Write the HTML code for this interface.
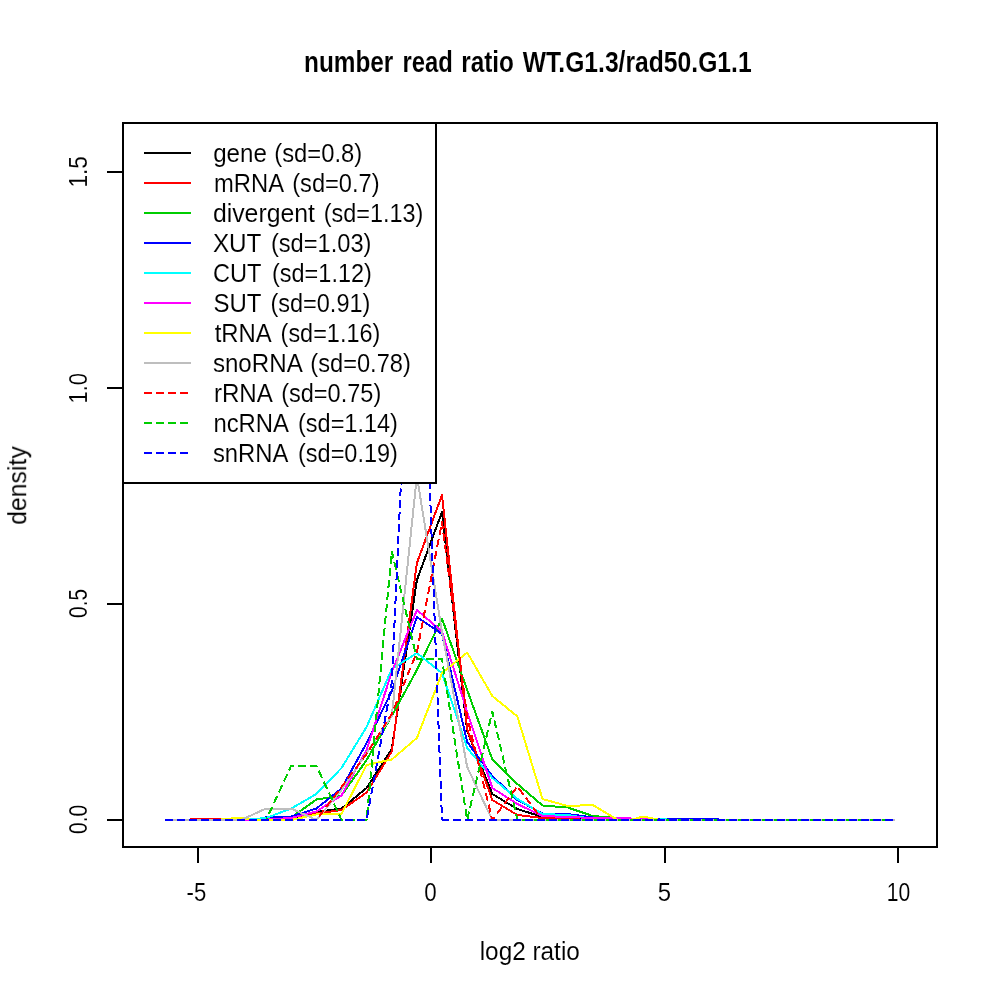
<!DOCTYPE html>
<html>
<head>
<meta charset="utf-8">
<title>number read ratio WT.G1.3/rad50.G1.1</title>
<style>
html,body{margin:0;padding:0;background:#fff;}
body{width:1000px;height:1000px;overflow:hidden;}
svg{display:block;font-family:"Liberation Sans",sans-serif;}
text{fill:#000;stroke:#fff;stroke-width:0.08px;paint-order:fill stroke;}
#txt{filter:grayscale(1);}
</style>
</head>
<body>
<svg width="1000" height="1000" viewBox="0 0 1000 1000">
<rect x="0" y="0" width="1000" height="1000" fill="#ffffff"/>
<defs><clipPath id="pc"><rect x="123" y="123" width="814" height="724"/></clipPath></defs>
<g clip-path="url(#pc)" fill="none" stroke-width="2" shape-rendering="crispEdges" stroke-linejoin="round">
<polyline stroke="#000000" stroke-linecap="square" points="165.6,820.0 190.7,820.0 215.9,820.0 241.0,820.0 266.1,820.0 291.2,819.0 316.4,812.0 341.5,808.5 366.6,788.0 391.8,749.0 416.9,580.0 442.0,512.0 467.2,731.0 492.3,794.0 517.4,809.0 542.5,817.0 567.7,817.5 592.8,819.0 617.9,820.0 643.1,820.0 668.2,820.0 693.3,820.0 718.5,820.0 743.6,820.0 768.7,820.0 793.9,820.0 819.0,820.0 844.1,820.0 869.2,820.0 894.4,820.0"/>
<polyline stroke="#FF0000" stroke-linecap="square" points="165.6,820.0 189.7,820.0 190.7,819.0 215.9,819.0 241.0,819.0 266.1,819.0 291.2,817.0 316.4,813.5 341.5,810.0 366.6,792.5 391.8,751.5 416.9,563.0 442.0,495.0 467.2,729.0 492.3,800.0 517.4,815.0 542.5,818.0 567.7,819.0 592.8,820.0 617.9,820.0 643.1,820.0 668.2,820.0 693.3,820.0 718.5,820.0 743.6,820.0 768.7,820.0 793.9,820.0 819.0,820.0 844.1,820.0 869.2,820.0 894.4,820.0"/>
<polyline stroke="#00CD00" stroke-linecap="square" points="165.6,820.0 190.7,820.0 215.9,820.0 241.0,820.0 266.1,818.5 291.2,817.5 316.4,799.5 341.5,795.5 366.6,760.0 391.8,716.0 416.9,670.0 442.0,618.5 467.2,690.0 492.3,759.5 517.4,784.0 542.5,805.5 567.7,807.5 592.8,816.0 617.9,818.0 643.1,819.0 668.2,820.0 693.3,820.0 718.5,820.0 743.6,820.0 768.7,820.0 793.9,820.0 819.0,820.0 844.1,820.0 869.2,820.0 894.4,820.0"/>
<polyline stroke="#0000FF" stroke-linecap="square" points="165.6,820.0 190.7,820.0 215.9,820.0 241.0,820.0 263.6,820.0 266.1,816.5 291.2,816.5 316.4,808.5 341.5,788.5 366.6,743.0 391.8,691.0 416.9,617.0 442.0,634.0 467.2,742.0 492.3,776.0 517.4,800.0 542.5,813.5 567.7,814.0 592.8,817.5 617.9,818.5 643.1,819.0 668.2,819.0 693.3,819.0 718.5,819.0 719.2,820.0 743.6,820.0 768.7,820.0 793.9,820.0 819.0,820.0 844.1,820.0 869.2,820.0 894.4,820.0"/>
<polyline stroke="#00FFFF" stroke-linecap="square" points="165.6,820.0 190.7,820.0 215.9,820.0 241.0,820.0 266.1,818.0 291.2,808.5 316.4,794.0 341.5,768.0 366.6,727.0 391.8,669.0 416.9,653.0 442.0,673.0 467.2,748.0 492.3,778.0 517.4,799.0 542.5,814.0 567.7,815.0 592.8,819.0 617.9,820.0 643.1,820.0 659.4,820.0 660.7,819.0 665.7,819.0 666.9,820.0 668.2,820.0 693.3,820.0 718.5,820.0 743.6,820.0 768.7,820.0 793.9,820.0 819.0,820.0 844.1,820.0 869.2,820.0 894.4,820.0"/>
<polyline stroke="#FF00FF" stroke-linecap="square" points="165.6,820.0 190.7,820.0 215.9,820.0 241.0,820.0 266.1,819.5 291.2,818.0 316.4,811.4 341.5,795.5 366.6,750.0 391.8,672.0 416.9,610.0 442.0,631.5 467.2,712.0 492.3,788.0 517.4,804.0 542.5,816.0 567.7,817.0 592.8,818.0 617.9,818.0 643.1,819.0 668.2,820.0 693.3,820.0 718.5,820.0 743.6,820.0 768.7,820.0 793.9,820.0 819.0,820.0 844.1,820.0 869.2,820.0 894.4,820.0"/>
<polyline stroke="#FFFF00" stroke-linecap="square" points="165.6,820.0 190.7,820.0 215.9,820.0 241.0,817.5 250.0,819.6 266.1,820.0 291.2,820.0 316.4,814.5 341.5,813.8 366.6,765.0 391.8,759.5 416.9,738.0 442.0,673.0 467.2,652.5 492.3,696.0 517.4,716.5 542.5,799.0 567.7,806.0 592.8,805.0 617.9,820.0 630.5,820.0 643.1,816.5 660.7,820.0 668.2,820.0 693.3,820.0 718.5,820.0 743.6,820.0 768.7,820.0 793.9,820.0 819.0,820.0 844.1,820.0 869.2,820.0 894.4,820.0"/>
<polyline stroke="#BEBEBE" stroke-linecap="square" points="165.6,820.0 190.7,820.0 215.9,820.0 241.0,820.0 266.1,808.5 291.2,808.5 316.4,820.0 341.5,790.0 366.6,753.0 391.8,716.0 416.9,476.0 442.0,632.0 467.2,767.0 492.3,820.0 517.4,820.0 542.5,820.0 567.7,820.0 592.8,820.0 617.9,820.0 643.1,820.0 668.2,820.0 693.3,820.0 718.5,820.0 743.6,820.0 768.7,820.0 793.9,820.0 819.0,820.0 844.1,820.0 869.2,820.0 894.4,820.0"/>
<polyline stroke="#FF0000" stroke-dasharray="8 4" stroke-linecap="butt" points="164.6,820.0 165.6,820.0 190.7,820.0 215.9,820.0 241.0,820.0 266.1,820.0 291.2,820.0 316.4,820.0 341.5,787.0 366.6,754.0 391.8,714.0 416.9,652.0 442.0,522.0 467.2,717.0 492.3,820.0 517.4,786.5 542.5,820.0"/>
<polyline stroke="#FF0000" stroke-dasharray="8 4" stroke-linecap="butt" stroke-dashoffset="5.5" points="542.5,820.0 567.7,820.0 592.8,820.0 617.9,820.0 643.1,820.0 668.2,820.0 693.3,820.0 718.5,820.0 743.6,820.0 768.7,820.0 793.9,820.0 819.0,820.0 844.1,820.0 869.2,820.0 893.9,820.0"/>
<polyline stroke="#00CD00" stroke-dasharray="8 4" stroke-linecap="butt" points="164.6,820.0 165.6,820.0 190.7,820.0 215.9,820.0 241.0,820.0 266.1,820.0 291.2,765.8 316.4,765.8 341.5,820.0 366.6,820.0 391.8,551.5 416.9,659.0 442.0,659.0 467.2,820.0 492.3,711.5 517.4,820.0"/>
<polyline stroke="#00CD00" stroke-dasharray="8 4" stroke-linecap="butt" stroke-dashoffset="7.4" points="517.4,820.0 542.5,820.0 567.7,820.0 592.8,820.0 617.9,820.0 643.1,820.0 668.2,820.0 693.3,820.0 718.5,820.0 743.6,820.0 768.7,820.0 793.9,820.0 819.0,820.0 844.1,820.0 869.2,820.0 893.9,820.0"/>
<polyline stroke="#0000FF" stroke-dasharray="8 4" stroke-linecap="butt" points="164.6,820.0 165.6,820.0 190.7,820.0 215.9,820.0 241.0,820.0 266.1,820.0 291.2,820.0 316.4,820.0 341.5,820.0 366.6,820.0 391.8,682.0 416.9,135.0 442.0,820.0"/>
<polyline stroke="#0000FF" stroke-dasharray="8 4" stroke-linecap="butt" stroke-dashoffset="1.0" points="442.0,820.0 467.2,820.0 492.3,820.0 517.4,820.0 542.5,820.0 567.7,820.0 592.8,820.0 617.9,820.0 643.1,820.0 668.2,820.0 693.3,820.0 718.5,820.0 743.6,820.0 768.7,820.0 793.9,820.0 819.0,820.0 844.1,820.0 869.2,820.0 893.9,820.0"/>
</g>
<g fill="#000" shape-rendering="crispEdges">
<rect x="197" y="847" width="2" height="16"/>
<rect x="430" y="847" width="2" height="16"/>
<rect x="664" y="847" width="2" height="16"/>
<rect x="897" y="847" width="2" height="16"/>
<rect x="107" y="171" width="16" height="2"/>
<rect x="107" y="387" width="16" height="2"/>
<rect x="107" y="603" width="16" height="2"/>
<rect x="107" y="819" width="16" height="2"/>
</g>
<rect x="123" y="123" width="814" height="724" fill="none" stroke="#000" stroke-width="2" shape-rendering="crispEdges"/>
<rect x="123" y="123" width="313" height="360" fill="#fff" stroke="#000" stroke-width="2" shape-rendering="crispEdges"/>
<g fill="none" stroke-width="2" shape-rendering="crispEdges">
<line x1="144" y1="153" x2="191" y2="153" stroke="#000000"/>
<line x1="144" y1="183" x2="191" y2="183" stroke="#FF0000"/>
<line x1="144" y1="213" x2="191" y2="213" stroke="#00CD00"/>
<line x1="144" y1="243" x2="191" y2="243" stroke="#0000FF"/>
<line x1="144" y1="273" x2="191" y2="273" stroke="#00FFFF"/>
<line x1="144" y1="303" x2="191" y2="303" stroke="#FF00FF"/>
<line x1="144" y1="333" x2="191" y2="333" stroke="#FFFF00"/>
<line x1="144" y1="363" x2="191" y2="363" stroke="#BEBEBE"/>
<line x1="144" y1="393" x2="191" y2="393" stroke="#FF0000" stroke-dasharray="8 4"/>
<line x1="144" y1="423" x2="191" y2="423" stroke="#00CD00" stroke-dasharray="8 4"/>
<line x1="144" y1="453" x2="191" y2="453" stroke="#0000FF" stroke-dasharray="8 4"/>
</g>
<g id="txt">
<text x="213.20" y="161.50" font-size="25" textLength="53.66" lengthAdjust="spacingAndGlyphs">gene</text>
<text x="274.30" y="161.50" font-size="25" textLength="87.97" lengthAdjust="spacingAndGlyphs">(sd=0.8)</text>
<text x="214.00" y="191.50" font-size="25" textLength="70.02" lengthAdjust="spacingAndGlyphs">mRNA</text>
<text x="292.20" y="191.50" font-size="25" textLength="87.45" lengthAdjust="spacingAndGlyphs">(sd=0.7)</text>
<text x="212.90" y="221.50" font-size="25" textLength="102.03" lengthAdjust="spacingAndGlyphs">divergent</text>
<text x="323.80" y="221.50" font-size="25" textLength="99.57" lengthAdjust="spacingAndGlyphs">(sd=1.13)</text>
<text x="212.90" y="251.50" font-size="25" textLength="48.48" lengthAdjust="spacingAndGlyphs">XUT</text>
<text x="270.90" y="251.50" font-size="25" textLength="100.56" lengthAdjust="spacingAndGlyphs">(sd=1.03)</text>
<text x="212.90" y="281.50" font-size="25" textLength="48.54" lengthAdjust="spacingAndGlyphs">CUT</text>
<text x="272.00" y="281.50" font-size="25" textLength="99.83" lengthAdjust="spacingAndGlyphs">(sd=1.12)</text>
<text x="213.40" y="311.50" font-size="25" textLength="48.00" lengthAdjust="spacingAndGlyphs">SUT</text>
<text x="270.40" y="311.50" font-size="25" textLength="99.97" lengthAdjust="spacingAndGlyphs">(sd=0.91)</text>
<text x="214.70" y="341.50" font-size="25" textLength="57.08" lengthAdjust="spacingAndGlyphs">tRNA</text>
<text x="280.60" y="341.50" font-size="25" textLength="99.69" lengthAdjust="spacingAndGlyphs">(sd=1.16)</text>
<text x="212.90" y="371.50" font-size="25" textLength="89.85" lengthAdjust="spacingAndGlyphs">snoRNA</text>
<text x="310.30" y="371.50" font-size="25" textLength="100.57" lengthAdjust="spacingAndGlyphs">(sd=0.78)</text>
<text x="213.90" y="401.50" font-size="25" textLength="58.96" lengthAdjust="spacingAndGlyphs">rRNA</text>
<text x="281.20" y="401.50" font-size="25" textLength="100.04" lengthAdjust="spacingAndGlyphs">(sd=0.75)</text>
<text x="213.40" y="431.50" font-size="25" textLength="75.63" lengthAdjust="spacingAndGlyphs">ncRNA</text>
<text x="298.00" y="431.50" font-size="25" textLength="99.94" lengthAdjust="spacingAndGlyphs">(sd=1.14)</text>
<text x="212.90" y="461.50" font-size="25" textLength="75.46" lengthAdjust="spacingAndGlyphs">snRNA</text>
<text x="298.00" y="461.50" font-size="25" textLength="99.94" lengthAdjust="spacingAndGlyphs">(sd=0.19)</text>
<text x="304.00" y="72.00" font-size="30" font-weight="bold" textLength="89.34" lengthAdjust="spacingAndGlyphs">number</text>
<text x="402.60" y="72.00" font-size="30" font-weight="bold" textLength="50.32" lengthAdjust="spacingAndGlyphs">read</text>
<text x="461.20" y="72.00" font-size="30" font-weight="bold" textLength="52.67" lengthAdjust="spacingAndGlyphs">ratio</text>
<text x="522.70" y="72.00" font-size="30" font-weight="bold" textLength="228.91" lengthAdjust="spacingAndGlyphs">WT.G1.3/rad50.G1.1</text>
<text x="479.70" y="960.00" font-size="25" textLength="100.15" lengthAdjust="spacingAndGlyphs">log2 ratio</text>
<text x="186.60" y="900.60" font-size="25" textLength="19.66" lengthAdjust="spacingAndGlyphs">-5</text>
<text x="424.20" y="900.60" font-size="25" textLength="12.44" lengthAdjust="spacingAndGlyphs">0</text>
<text x="657.80" y="900.60" font-size="25" textLength="13.31" lengthAdjust="spacingAndGlyphs">5</text>
<text x="886.70" y="900.60" font-size="25" textLength="23.47" lengthAdjust="spacingAndGlyphs">10</text>
<text transform="translate(87.10,187.50) rotate(-90)" font-size="25" textLength="31.43" lengthAdjust="spacingAndGlyphs">1.5</text>
<text transform="translate(87.10,403.50) rotate(-90)" font-size="25" textLength="30.56" lengthAdjust="spacingAndGlyphs">1.0</text>
<text transform="translate(87.10,617.90) rotate(-90)" font-size="25" textLength="28.89" lengthAdjust="spacingAndGlyphs">0.5</text>
<text transform="translate(87.10,833.90) rotate(-90)" font-size="25" textLength="28.89" lengthAdjust="spacingAndGlyphs">0.0</text>
<text transform="translate(26.20,524.80) rotate(-90)" font-size="25" textLength="78.54" lengthAdjust="spacingAndGlyphs">density</text>
</g>
</svg>
</body>
</html>
